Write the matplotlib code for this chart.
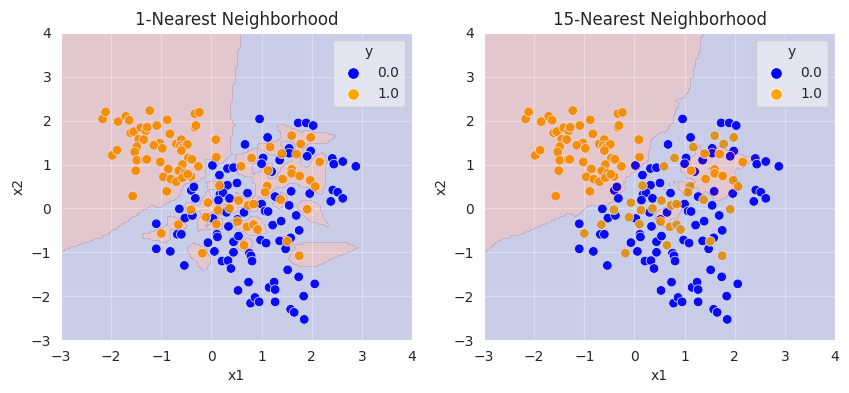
import numpy as np
import pandas as pd
import matplotlib
matplotlib.use("Agg")
import matplotlib.pyplot as plt
import seaborn as sns

# class 1.0 (orange)
x1_orange = [-2.17, -2.11, -1.86, -1.71, -1.64, -1.98, -1.88, -1.61, -1.55, -1.41,
             -1.31, -1.28, -1.45, -1.35, -1.49, -1.53, -1.49, -1.32, -1.29, -1.51,
             -1.57, -1.23, -1.09, -0.88, -0.83, -1.03, -1.15, -0.98, -1.02, -0.86,
             -0.96, -0.81, -0.70, -0.89, -0.70, -0.60, -0.62, -0.57, -0.48, -0.60,
             -0.46, -0.39, -0.58, -0.65, -0.53, -0.58, -0.41, -0.47, -0.33, -0.24,
             -0.33, -0.31, -0.26, 0.09, 0.10, -0.07, 0.16, -0.41, -0.11, 0.10,
             0.13, -0.66, -1.00, -0.18, 0.36, 0.54, 0.52, 0.73, 0.84, 0.71,
             0.84, 0.92, 0.65, 0.59, 0.80, 1.13, 1.11, 1.07, 1.17, 1.40,
             1.38, 1.42, 1.60, 1.78, 1.70, 1.60, 1.60, 1.76, 1.98, 1.97,
             2.07, 2.16, 1.91, 1.51, 1.75]
x2_orange = [2.04, 2.20, 1.98, 2.10, 2.01, 1.21, 1.33, 1.72, 1.75, 1.84,
             1.77, 1.85, 1.58, 1.57, 1.41, 1.29, 1.10, 1.11, 1.12, 0.86,
             0.28, 2.23, 1.89, 2.02, 1.70, 1.49, 1.44, 1.37, 1.06, 0.90,
             0.72, 0.67, 0.61, 0.39, 1.47, 1.57, 1.43, 1.38, 1.46, 1.32,
             1.15, 1.12, 1.00, 0.86, 0.81, 0.70, 0.73, 0.78, 2.16, 2.19,
             1.85, 1.89, 0.96, 1.57, 1.17, 0.13, 0.52, -0.03, -0.20, -0.36,
             -0.04, -0.37, -0.57, -1.02, 0.00, 0.18, -0.30, 0.07, 0.10, -0.42,
             -0.37, -0.48, -0.84, 0.96, 1.15, 0.86, 0.51, 0.37, 1.40, 1.25,
             0.20, 0.67, 1.66, 1.47, 1.24, 0.89, 0.80, 0.74, 1.62, 0.64,
             0.50, 1.06, -0.02, -0.75, -1.08]

# class 0.0 (blue)
x1_blue = [0.96, 1.73, 1.89, 2.03, 1.12, 0.67, 1.55, 1.55, 1.98, 1.91,
           1.36, 1.03, 1.00, 1.20, 0.02, 0.32, 0.44, 0.16, 0.32, 0.51,
           -0.40, -0.35, -0.32, 0.17, 0.23, 0.14, 0.36, 0.72, -0.64, -0.53,
           -0.38, -1.10, -1.10, -0.82, -0.68, -0.60, -0.54, 0.30, 0.34, -0.02,
           0.03, 0.11, 0.12, -0.07, 0.06, 0.21, 0.33, 0.39, 0.44, 0.44,
           0.54, 0.52, 0.65, 1.00, 1.07, 1.13, 1.27, 1.22, 1.39, 0.98,
           1.09, 1.36, 1.48, 1.58, 1.55, 1.59, 1.69, 1.75, 1.96, 2.41,
           2.44, 2.62, 2.88, 2.42, 2.52, 2.38, 2.62, 0.76, 0.79, 0.81,
           0.74, 0.53, 0.78, 0.87, 0.95, 1.15, 1.25, 1.27, 1.27, 1.52,
           1.74, 2.06, 1.84, 1.58, 1.65, 1.85]
x2_blue = [2.04, 1.95, 1.95, 1.89, 1.62, 1.46, 1.37, 1.26, 1.31, 1.19,
           1.10, 1.15, 1.02, 0.84, 0.98, 0.91, 0.93, 0.76, 0.53, 0.58,
           0.41, 0.49, 0.23, 0.32, 0.36, 0.19, 0.23, 0.35, -0.01, -0.22,
           -0.16, -0.35, -0.92, -0.98, -0.59, -0.59, -1.30, -0.09, -0.41, -0.22,
           -0.23, -0.59, -0.65, -0.78, -0.98, -1.20, -1.19, -1.37, -1.00, -0.76,
           -0.63, -0.25, -0.09, 0.10, -0.06, -0.07, 0.27, -0.38, -0.29, -0.72,
           -0.79, -0.74, -0.92, -0.67, 0.07, 0.39, -0.16, -0.50, 0.34, 1.14,
           1.01, 1.07, 0.96, 0.42, 0.37, 0.16, 0.23, -1.02, -1.08, -1.20,
           -1.68, -1.87, -2.16, -2.03, -2.13, -1.80, -1.68, -1.85, -2.13, -1.40,
           -1.56, -1.72, -2.00, -2.30, -2.37, -2.53]

neighbors = [1, 15]
titles = ["1-Nearest Neighborhood", "15-Nearest Neighborhood"]

X = np.array(list(zip(x1_blue + x1_orange, x2_blue + x2_orange)))
y = np.array([0.0] * len(x1_blue) + [1.0] * len(x1_orange))
df = pd.DataFrame({"x1": X[:, 0], "x2": X[:, 1], "y": y})

h = 0.05
xx, yy = np.meshgrid(np.arange(-3, 4 + h / 2, h), np.arange(-3, 4 + h / 2, h))
G = np.c_[xx.ravel(), yy.ravel()]
d = ((G[:, None, :] - X[None, :, :]) ** 2).sum(-1)
order = np.argsort(d, axis=1)

sns.set_style("darkgrid")
fig = plt.figure(figsize=(8.49, 3.93), dpi=100)
rects = [[61 / 849, 53 / 393, 351 / 849, 307 / 393],
         [484 / 849, 53 / 393, 351 / 849, 307 / 393]]

for k, title, r in zip(neighbors, titles, rects):
    ax = fig.add_axes(r)
    votes = y[order[:, :k]].mean(axis=1)
    Z = (votes > 0.5).astype(float).reshape(xx.shape)
    sns.scatterplot(data=df, x="x1", y="x2", hue="y", palette=["blue", "orange"],
                    s=48, ax=ax)
    ax.contourf(xx, yy, Z, levels=[-0.5, 0.5, 1.5],
                colors=[(59 / 255, 76 / 255, 192 / 255), (190 / 255, 40 / 255, 50 / 255)],
                alpha=0.18)
    ax.set_xlim(-3, 4)
    ax.set_ylim(-3, 4)
    ax.set_title(title, fontsize=12)
    ax.set_xlabel("x1", fontsize=10)
    ax.set_ylabel("x2", fontsize=10)
    ax.tick_params(labelsize=10)
    ax.legend(title="y", loc="upper right", fontsize=10, title_fontsize=10,
              markerscale=1.2)

fig.savefig("out.png", dpi=100)
